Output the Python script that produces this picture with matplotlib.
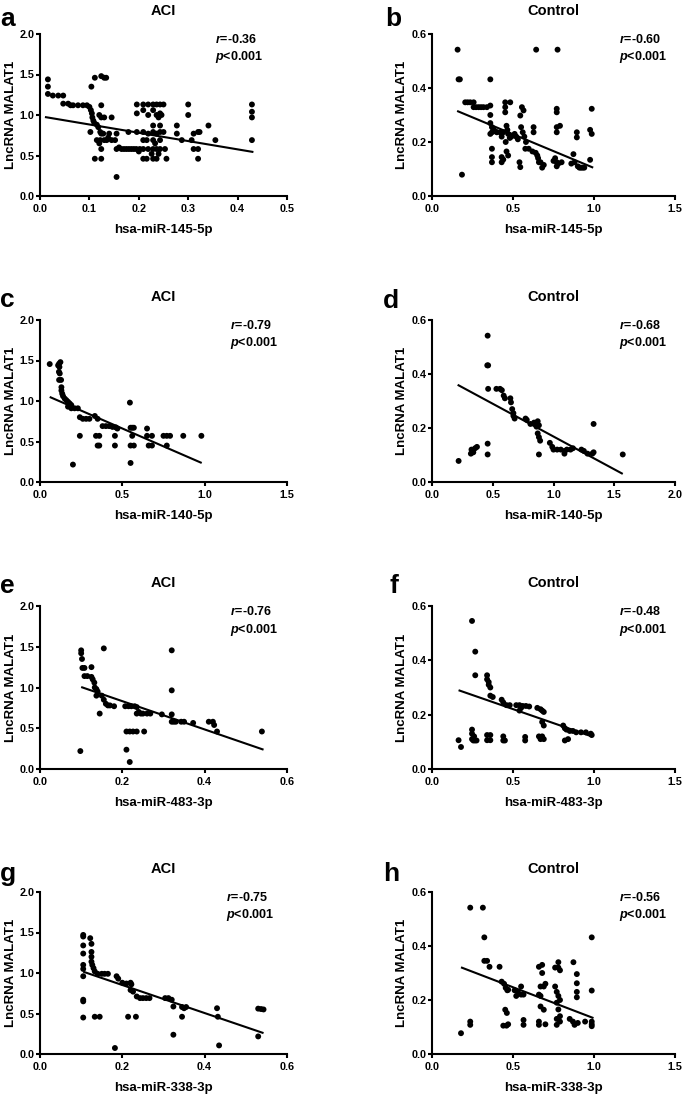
import matplotlib
matplotlib.use("Agg")
import matplotlib.pyplot as plt
import numpy as np
from matplotlib.ticker import FormatStrFormatter

plt.rcParams['font.family'] = ['Liberation Sans', 'DejaVu Sans']
plt.rcParams['font.weight'] = 'bold'
plt.rcParams['mathtext.fontset'] = 'custom'
plt.rcParams['mathtext.it'] = 'Liberation Sans:italic:bold'
plt.rcParams['mathtext.rm'] = 'Liberation Sans:bold'

# ---------------- data ----------------
letters = ["a", "b", "c", "d", "e", "f", "g", "h"]
titles = ["ACI", "Control", "ACI", "Control", "ACI", "Control", "ACI", "Control"]
xlabels = ["hsa-miR-145-5p", "hsa-miR-145-5p", "hsa-miR-140-5p", "hsa-miR-140-5p",
           "hsa-miR-483-3p", "hsa-miR-483-3p", "hsa-miR-338-3p", "hsa-miR-338-3p"]
ylabel = "LncRNA MALAT1"
r_values = ["-0.36", "-0.60", "-0.79", "-0.68", "-0.76", "-0.48", "-0.75", "-0.56"]
p_text = "<0.001"

xticks_aci_145 = [0.0, 0.1, 0.2, 0.3, 0.4, 0.5]
xticks_ctrl = [0.0, 0.5, 1.0, 1.5]
xticks_ctrl_140 = [0.0, 0.5, 1.0, 1.5, 2.0]
xticks_aci_06 = [0.0, 0.2, 0.4, 0.6]
yticks_aci = [0.0, 0.5, 1.0, 1.5, 2.0]
yticks_ctrl = [0.0, 0.2, 0.4, 0.6]

a_points = [(0.016,1.44),(0.016,1.35),(0.016,1.26),(0.026,1.24),(0.037,1.24),(0.047,1.24),
    (0.047,1.14),(0.057,1.14),(0.062,1.12),(0.067,1.12),(0.077,1.12),(0.087,1.12),(0.095,1.12),(0.100,1.10),
    (0.103,1.06),(0.105,1.02),(0.106,0.97),(0.108,0.93),(0.110,0.90),(0.104,1.35),(0.111,1.46),
    (0.124,1.48),(0.130,1.46),(0.134,1.46),(0.102,0.79),(0.111,0.46),(0.124,0.46),
    (0.124,1.12),(0.120,1.00),(0.124,0.97),(0.130,0.97),(0.145,0.97),
    (0.115,0.88),(0.118,0.85),(0.122,0.79),(0.124,0.77),(0.128,0.77),(0.122,0.69),(0.115,0.69),
    (0.120,0.65),(0.124,0.58),(0.130,0.69),(0.135,0.69),(0.138,0.72),(0.140,0.77),(0.145,0.69),
    (0.152,0.69),(0.155,0.77),(0.155,0.235),(0.155,0.58),(0.160,0.60),(0.165,0.58),(0.170,0.58),
    (0.175,0.58),(0.180,0.58),(0.185,0.58),(0.190,0.58),(0.195,0.58),(0.179,0.79),(0.196,0.79),
    (0.196,1.13),(0.196,1.02),(0.200,0.55),
    (0.209,1.13),(0.219,1.13),(0.229,1.13),(0.236,1.13),(0.243,1.13),(0.250,1.13),
    (0.209,1.06),(0.229,1.06),
    (0.219,1.00),(0.236,1.00),(0.240,0.97),(0.243,1.02),(0.246,1.00),
    (0.229,0.87),(0.243,0.87),
    (0.209,0.79),(0.219,0.77),(0.229,0.79),(0.236,0.77),(0.243,0.79),(0.250,0.79),
    (0.209,0.69),(0.216,0.69),(0.229,0.69),(0.233,0.65),(0.243,0.69),
    (0.202,0.58),(0.209,0.58),(0.219,0.58),(0.229,0.58),(0.236,0.58),(0.243,0.58),
    (0.226,0.52),(0.240,0.52),
    (0.209,0.46),(0.216,0.46),(0.229,0.46),(0.236,0.46),
    (0.253,0.58),(0.256,0.46),(0.277,0.87),(0.277,0.77),(0.287,0.69),(0.300,1.13),(0.300,1.00),
    (0.307,0.69),(0.311,0.77),(0.311,0.58),(0.320,0.79),(0.323,0.79),(0.320,0.58),(0.320,0.46),
    (0.341,0.87),(0.355,0.69),(0.429,1.13),(0.429,1.04),(0.429,0.97),(0.429,0.69)]

b_points = [(0.158,0.542),(0.164,0.432),(0.172,0.432),(0.185,0.079),(0.360,0.432),
    (0.205,0.347),(0.220,0.347),(0.236,0.347),(0.257,0.347),
    (0.257,0.329),(0.272,0.329),(0.288,0.329),(0.303,0.329),(0.318,0.329),(0.339,0.329),(0.360,0.335),
    (0.360,0.300),(0.360,0.270),(0.370,0.255),(0.380,0.245),(0.390,0.240),(0.370,0.236),(0.360,0.230),
    (0.370,0.175),(0.370,0.144),(0.370,0.125),
    (0.400,0.236),(0.420,0.236),(0.430,0.220),(0.440,0.236),
    (0.452,0.347),(0.452,0.329),(0.452,0.310),(0.483,0.347),
    (0.430,0.144),(0.430,0.125),(0.440,0.135),(0.460,0.165),(0.470,0.150),(0.455,0.200),(0.460,0.260),
    (0.465,0.245),(0.470,0.230),(0.480,0.215),(0.490,0.220),
    (0.510,0.230),(0.520,0.220),(0.530,0.210),(0.545,0.298),(0.555,0.329),(0.565,0.317),
    (0.550,0.255),(0.560,0.236),(0.570,0.220),(0.540,0.125),(0.545,0.107),
    (0.576,0.175),(0.597,0.175),(0.580,0.200),
    (0.643,0.542),(0.775,0.542),
    (0.627,0.255),(0.627,0.236),(0.620,0.165),(0.640,0.160),(0.650,0.150),(0.655,0.140),(0.660,0.125),
    (0.670,0.125),(0.680,0.105),(0.690,0.115),
    (0.770,0.323),(0.770,0.310),(0.770,0.255),(0.770,0.236),(0.790,0.260),
    (0.750,0.130),(0.760,0.140),(0.770,0.125),(0.780,0.120),(0.800,0.125),(0.770,0.110),
    (0.873,0.155),(0.880,0.125),(0.894,0.236),(0.894,0.217),
    (0.860,0.120),(0.900,0.110),(0.910,0.105),(0.920,0.105),(0.930,0.105),(0.940,0.105),
    (0.976,0.245),(0.986,0.230),(0.986,0.323),(0.976,0.134)]

c_points = [(0.059,1.456),(0.116,1.46),(0.124,1.48),(0.110,1.44),(0.118,1.42),
    (0.115,1.36),(0.120,1.34),(0.116,1.26),(0.128,1.26),
    (0.130,1.17),(0.130,1.13),(0.135,1.09),(0.140,1.06),(0.150,1.03),(0.160,1.01),(0.170,0.99),
    (0.180,0.97),(0.190,0.95),
    (0.170,0.93),(0.190,0.91),(0.210,0.91),(0.230,0.91),
    (0.242,0.80),(0.260,0.78),(0.280,0.78),(0.300,0.78),
    (0.242,0.57),(0.200,0.215),
    (0.333,0.815),(0.350,0.78),
    (0.340,0.57),(0.360,0.57),(0.350,0.45),(0.360,0.45),
    (0.380,0.69),(0.400,0.69),(0.420,0.69),(0.440,0.68),(0.460,0.675),(0.470,0.66),
    (0.455,0.57),(0.455,0.45),
    (0.546,0.98),(0.550,0.67),(0.560,0.67),(0.570,0.67),(0.560,0.57),(0.570,0.45),(0.550,0.45),(0.550,0.235),
    (0.650,0.66),(0.650,0.57),(0.660,0.45),(0.680,0.57),(0.680,0.45),
    (0.750,0.57),(0.770,0.57),(0.790,0.57),(0.770,0.45),
    (0.870,0.57),(0.980,0.57)]

d_points = [(0.219,0.078),(0.320,0.105),(0.325,0.120),(0.340,0.110),(0.355,0.125),(0.370,0.130),
    (0.458,0.542),(0.455,0.432),(0.462,0.432),(0.462,0.345),(0.458,0.142),(0.458,0.102),
    (0.530,0.345),(0.560,0.345),(0.575,0.340),(0.590,0.320),(0.600,0.310),
    (0.645,0.310),(0.650,0.295),(0.660,0.270),(0.670,0.255),(0.680,0.235),(0.670,0.245),
    (0.770,0.235),(0.780,0.230),(0.810,0.215),(0.840,0.220),(0.860,0.205),(0.870,0.225),(0.880,0.210),
    (0.870,0.180),(0.880,0.166),(0.890,0.153),(0.880,0.102),
    (0.970,0.145),(0.990,0.130),(1.000,0.120),(1.030,0.120),(1.060,0.120),(1.090,0.115),(1.110,0.120),
    (1.140,0.120),(1.160,0.125),(1.090,0.105),
    (1.230,0.120),(1.250,0.115),(1.280,0.105),(1.320,0.105),(1.330,0.110),(1.330,0.215),(1.570,0.102)]

e_points = [(0.098,0.22),(0.100,1.456),(0.100,1.42),(0.102,1.35),(0.103,1.24),(0.108,1.24),
    (0.108,1.14),(0.115,1.14),(0.125,1.25),
    (0.125,1.13),(0.128,1.10),(0.132,1.06),(0.133,1.00),(0.137,0.98),(0.140,0.95),(0.137,0.90),
    (0.145,0.68),(0.155,1.48),
    (0.150,0.90),(0.155,0.85),(0.160,0.80),(0.165,0.78),(0.170,0.78),(0.180,0.77),
    (0.207,0.77),(0.215,0.77),(0.222,0.77),(0.230,0.77),(0.235,0.76),
    (0.210,0.237),(0.218,0.086),
    (0.210,0.46),(0.218,0.46),(0.226,0.46),(0.235,0.46),
    (0.235,0.68),(0.240,0.70),(0.245,0.68),(0.250,0.68),(0.260,0.68),(0.268,0.68),
    (0.253,0.46),(0.296,0.67),
    (0.320,0.67),(0.320,0.58),(0.325,0.58),(0.320,1.456),(0.320,0.965),
    (0.330,0.58),(0.343,0.58),(0.350,0.58),(0.372,0.565),
    (0.410,0.58),(0.420,0.58),(0.423,0.54),(0.430,0.46),(0.539,0.46)]

f_points = [(0.164,0.106),(0.179,0.081),(0.247,0.545),(0.267,0.432),(0.267,0.345),
    (0.247,0.145),(0.247,0.130),(0.247,0.110),(0.255,0.105),(0.265,0.105),(0.275,0.105),(0.260,0.120),
    (0.340,0.345),(0.340,0.330),(0.350,0.320),(0.350,0.310),(0.360,0.300),(0.360,0.270),(0.375,0.265),
    (0.340,0.125),(0.340,0.106),(0.360,0.125),(0.360,0.106),
    (0.430,0.255),(0.440,0.245),(0.460,0.235),(0.480,0.235),
    (0.440,0.120),(0.440,0.105),(0.450,0.105),
    (0.520,0.235),(0.540,0.235),(0.550,0.225),(0.560,0.232),(0.580,0.232),(0.600,0.230),(0.540,0.215),
    (0.575,0.118),(0.575,0.105),
    (0.650,0.225),(0.670,0.220),(0.680,0.215),(0.690,0.210),(0.680,0.173),(0.690,0.160),
    (0.660,0.120),(0.670,0.110),(0.680,0.120),(0.690,0.110),
    (0.810,0.160),(0.820,0.150),(0.830,0.145),(0.850,0.140),(0.870,0.140),(0.890,0.135),(0.920,0.135),
    (0.950,0.135),(0.980,0.130),
    (0.820,0.105),(0.840,0.110),(0.986,0.125)]

g_points = [(0.105,1.47),(0.105,1.45),(0.105,1.34),(0.105,1.24),(0.105,1.10),(0.105,1.05),(0.105,0.96),
    (0.105,0.67),(0.105,0.65),(0.105,0.45),
    (0.122,1.43),(0.125,1.36),(0.125,1.26),(0.125,1.20),(0.125,1.14),(0.127,1.10),(0.130,1.06),(0.133,1.02),
    (0.133,0.46),(0.145,0.46),
    (0.140,0.99),(0.150,0.99),(0.157,0.99),(0.165,0.99),
    (0.182,0.074),(0.186,0.96),(0.190,0.93),(0.200,0.88),(0.210,0.87),(0.220,0.88),(0.222,0.86),
    (0.214,0.46),(0.220,0.79),(0.226,0.77),
    (0.235,0.71),(0.243,0.69),(0.250,0.69),(0.258,0.69),(0.266,0.69),
    (0.233,0.46),
    (0.304,0.69),(0.312,0.69),(0.320,0.67),(0.324,0.586),(0.324,0.238),
    (0.345,0.58),(0.350,0.565),(0.355,0.58),(0.345,0.46),
    (0.430,0.565),(0.432,0.46),(0.435,0.106),
    (0.530,0.56),(0.537,0.555),(0.543,0.55),(0.530,0.217)]

h_points = [(0.179,0.077),(0.236,0.542),(0.314,0.542),(0.236,0.120),(0.236,0.108),
    (0.323,0.432),(0.323,0.345),(0.340,0.345),(0.355,0.323),(0.417,0.323),
    (0.430,0.268),(0.445,0.260),(0.455,0.245),(0.465,0.236),(0.470,0.238),
    (0.452,0.164),(0.462,0.152),
    (0.440,0.105),(0.460,0.105),(0.470,0.110),
    (0.510,0.236),(0.530,0.230),(0.550,0.250),(0.565,0.220),(0.550,0.220),(0.520,0.215),
    (0.565,0.126),(0.565,0.108),
    (0.660,0.323),(0.680,0.330),(0.680,0.300),
    (0.670,0.250),(0.690,0.250),(0.700,0.260),(0.660,0.220),(0.670,0.215),
    (0.670,0.176),(0.690,0.164),(0.660,0.120),(0.660,0.108),(0.700,0.110),
    (0.760,0.250),(0.770,0.230),(0.780,0.215),(0.790,0.200),(0.770,0.190),(0.780,0.165),(0.790,0.140),
    (0.770,0.130),(0.790,0.120),(0.770,0.108),
    (0.780,0.340),(0.780,0.320),(0.790,0.310),(0.760,0.320),
    (0.873,0.340),(0.894,0.296),(0.894,0.262),(0.894,0.230),(0.894,0.210),
    (0.850,0.130),(0.870,0.120),(0.880,0.108),(0.900,0.115),
    (0.945,0.120),(0.986,0.120),(0.986,0.110),(0.986,0.103),(0.986,0.432),(0.986,0.235)]

# regression line end points
a_fit_x, a_fit_y = [0.010, 0.432], [0.975, 0.543]
b_fit_x, b_fit_y = [0.155, 0.995], [0.315, 0.105]
c_fit_x, c_fit_y = [0.059, 0.982], [1.050, 0.235]
d_fit_x, d_fit_y = [0.211, 1.570], [0.360, 0.030]
e_fit_x, e_fit_y = [0.100, 0.543], [1.006, 0.237]
f_fit_x, f_fit_y = [0.164, 0.986], [0.290, 0.120]
g_fit_x, g_fit_y = [0.105, 0.543], [1.016, 0.258]
h_fit_x, h_fit_y = [0.179, 0.997], [0.321, 0.133]

panels = [
    (a_points, a_fit_x, a_fit_y, xticks_aci_145, yticks_aci),
    (b_points, b_fit_x, b_fit_y, xticks_ctrl, yticks_ctrl),
    (c_points, c_fit_x, c_fit_y, xticks_ctrl, yticks_aci),
    (d_points, d_fit_x, d_fit_y, xticks_ctrl_140, yticks_ctrl),
    (e_points, e_fit_x, e_fit_y, xticks_aci_06, yticks_aci),
    (f_points, f_fit_x, f_fit_y, xticks_ctrl, yticks_ctrl),
    (g_points, g_fit_x, g_fit_y, xticks_aci_06, yticks_aci),
    (h_points, h_fit_x, h_fit_y, xticks_ctrl, yticks_ctrl),
]

# ---------------- layout ----------------
W, H = 685, 1096
fig = plt.figure(figsize=(W / 100, H / 100), dpi=100)

col_left = [40, 432]
col_width = [247, 243]
row_top = [34, 320, 606, 892]
row_bottom = [196, 482, 769, 1054]
ann_x = [0.71, 0.77, 0.77, 0.77, 0.77, 0.77, 0.755, 0.77]
letter_pos = [(0, 26), (385, 26), (0, 307), (383, 308), (0, 593), (389, 593), (0, 881), (383, 881)]

for i, (pts, fx, fy, xt, yt) in enumerate(panels):
    r, c = divmod(i, 2)
    left = col_left[c] / W
    width = col_width[c] / W
    bottom = 1 - row_bottom[r] / H
    height = (row_bottom[r] - row_top[r]) / H
    ax = fig.add_axes([left, bottom, width, height])
    xs = [p[0] for p in pts]
    ys = [p[1] for p in pts]
    ax.scatter(xs, ys, s=18, color='black', edgecolors='none', clip_on=False, zorder=3)
    ax.plot(fx, fy, color='black', lw=1.5, zorder=4, solid_capstyle='butt')
    ax.set_xlim(xt[0], xt[-1])
    ax.set_ylim(yt[0], yt[-1])
    ax.set_xticks(xt)
    ax.set_yticks(yt)
    ax.xaxis.set_major_formatter(FormatStrFormatter('%.1f'))
    ax.yaxis.set_major_formatter(FormatStrFormatter('%.1f'))
    for s in ['top', 'right']:
        ax.spines[s].set_visible(False)
    for s in ['left', 'bottom']:
        ax.spines[s].set_linewidth(1.5)
    ax.tick_params(axis='both', direction='out', length=3, width=1.5, labelsize=7.8, pad=1)
    ax.tick_params(axis='x', pad=2.5)
    for lab in ax.get_xticklabels() + ax.get_yticklabels():
        lab.set_fontweight('bold')
    ax.set_title(titles[i], fontsize=10.5, fontweight='bold', pad=14)
    ax.set_xlabel(xlabels[i], fontsize=9.5, fontweight='bold')
    ax.set_ylabel(ylabel, fontsize=9.5, fontweight='bold')
    ax.xaxis.set_label_coords(0.5, -0.17)
    ax.yaxis.set_label_coords(-0.095 if c == 0 else -0.099, 0.5)
    ax.text(ann_x[i], 0.965, r'$\mathit{r}$=' + r_values[i], transform=ax.transAxes,
            fontsize=9, fontweight='bold', va='center', ha='left')
    ax.text(ann_x[i], 0.855, r'$\mathit{p}$' + p_text, transform=ax.transAxes,
            fontsize=9, fontweight='bold', va='center', ha='left')
    lx, ly = letter_pos[i]
    fig.text(lx / W, 1 - ly / H, letters[i], fontsize=19, fontweight='bold',
             va='baseline', ha='left')

fig.savefig('out.png', dpi=100)
